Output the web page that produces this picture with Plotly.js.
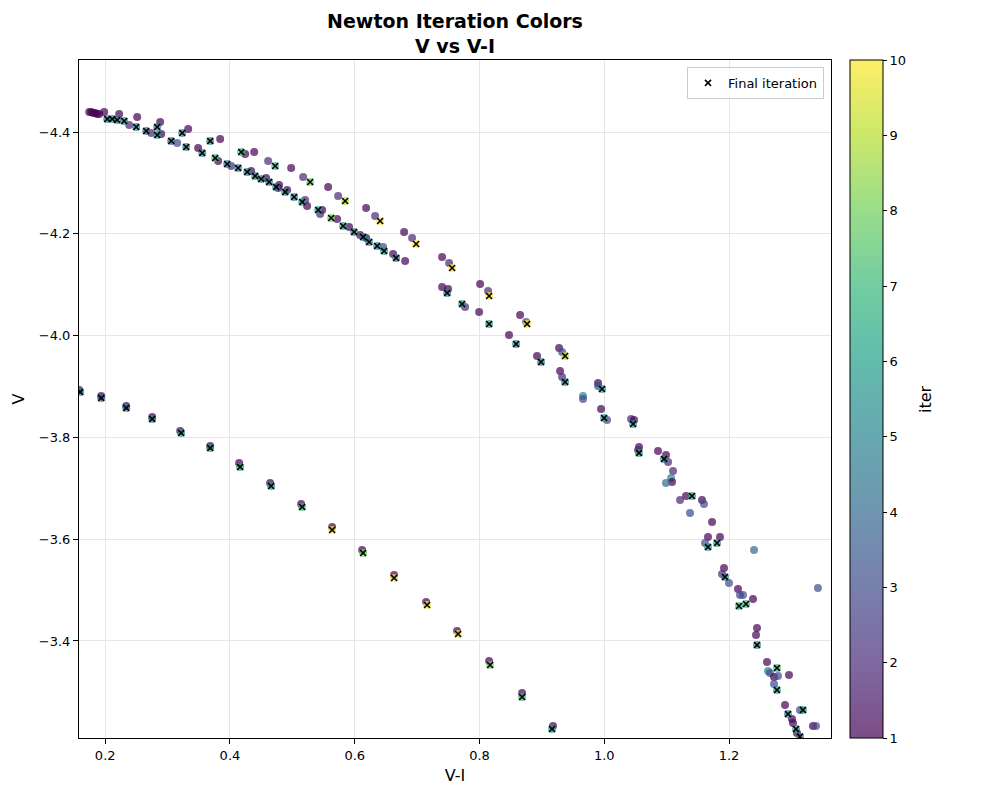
<!DOCTYPE html>
<html>
<head>
<meta charset="utf-8">
<script src="https://cdn.plot.ly/plotly-3.0.1.min.js"></script>
<style>
  html, body { margin: 0; padding: 0; background: #ffffff; }
  #chart { width: 1000px; height: 800px; }
</style>
</head>
<body>
<div id="chart"></div>
<script>
// Intermediate Newton iterations: colour index V-I, magnitude V, iteration number
const iterVI = [
  0.1744, 0.1776, 0.1808, 0.1840, 0.1872, 0.1904,
  0.1984, 0.2224, 0.2513, 0.2385, 0.2737, 0.2881, 0.2897, 0.3154, 0.3330, 0.3490,
  0.3843, 0.3811, 0.4019, 0.4244, 0.4388, 0.4340, 0.4580, 0.4612, 0.4788, 0.4981,
  0.5173, 0.5574, 0.5734, 0.6183, 0.6327, 0.6792, 0.6920, 0.7401, 0.7513,
  0.4772, 0.4917, 0.5205, 0.5237, 0.5478, 0.5446, 0.5718, 0.5910, 0.6087, 0.6183,
  0.6455, 0.6616, 0.6808, 0.7401, 0.7497, 0.7769, 0.8010, 0.8138, 0.7994, 0.8651,
  0.8747, 0.8474, 0.8923, 0.9276, 0.9324, 0.9292, 0.9324, 0.9901, 0.9901, 0.9660,
  0.9660, 0.9949, 1.0045, 1.0430, 1.0478, 1.0558, 1.0542, 1.0862, 1.0990, 1.1023,
  1.1103, 1.1071, 1.1087, 1.0990, 1.1311, 1.1215, 1.1567, 1.1599, 1.1375, 1.1728,
  1.1663, 1.1856, 1.1616, 1.2401, 1.1920, 1.1888, 1.2000, 1.2144, 1.2176, 1.2224,
  1.2385, 1.3426, 1.2449, 1.2433, 1.2609, 1.2625, 1.2657, 1.2721, 1.2785, 1.2962,
  1.2721, 1.2898, 1.3010, 1.3026, 1.3090, 1.3138, 1.3346, 1.3394,
  0.1583, 0.1936, 0.2337, 0.2753, 0.3202, 0.3683, 0.4147, 0.4644, 0.5141, 0.5638,
  0.6119, 0.6631, 0.7144, 0.7641, 0.8154, 0.8683, 0.9179
];
const iterV = [
  -4.4393, -4.4393, -4.4373, -4.4373, -4.4354, -4.4354,
  -4.4393, -4.4354, -4.4295, -4.4138, -4.3980, -4.4196, -4.3961, -4.3784, -4.4059, -4.3686,
  -4.3862, -4.3430, -4.3332, -4.3568, -4.3607, -4.3234, -4.3096, -4.3430, -4.2959, -4.3293,
  -4.3116, -4.2919, -4.2743, -4.2507, -4.2350, -4.2035, -4.1918, -4.1544, -4.1426,
  -4.2900, -4.2861, -4.2664, -4.2546, -4.2468, -4.2389, -4.2291, -4.2134, -4.1976, -4.1917,
  -4.1741, -4.1603, -4.1466, -4.0955, -4.0916, -4.0562, -4.1014, -4.0876, -4.0464, -4.0405,
  -4.0267, -4.0012, -3.9599, -3.9756, -3.9678, -3.9305, -3.9187, -3.9069, -3.9010, -3.8813,
  -3.8755, -3.8558, -3.8342, -3.8362, -3.8342, -3.7812, -3.7753, -3.7733, -3.7654, -3.7517,
  -3.7340, -3.7202, -3.7124, -3.7104, -3.6849, -3.6770, -3.6770, -3.6692, -3.6515, -3.6338,
  -3.6043, -3.6043, -3.5926, -3.5788, -3.5434, -3.5316, -3.5140, -3.5022, -3.4904, -3.4904,
  -3.4825, -3.5041, -3.4256, -3.4118, -3.3588, -3.3411, -3.3371, -3.3293, -3.3313, -3.3332,
  -3.3155, -3.2743, -3.2468, -3.2389, -3.2193, -3.2645, -3.2330, -3.2330,
  -3.8931, -3.8813, -3.8617, -3.8401, -3.8126, -3.7831, -3.7497, -3.7104, -3.6692, -3.6240,
  -3.5788, -3.5297, -3.4766, -3.4197, -3.3608, -3.2979, -3.2330
];
const iterN = [
  1, 1, 1, 1, 1, 1,
  1, 1, 1, 2, 2, 1, 1, 3, 1, 1,
  1, 1, 2, 1, 1, 1, 1, 2, 1, 1,
  2, 1, 2, 1, 2, 1, 2, 1, 2,
  1, 1, 2, 1, 1, 2, 1, 1, 1, 1,
  3, 1, 1, 1, 1, 2, 1, 2, 1, 1,
  3, 1, 1, 1, 3, 1, 2, 1, 3, 5,
  3, 1, 3, 2, 1, 1, 2, 1, 1, 2,
  2, 5, 1, 4, 1, 2, 1, 3, 3, 1,
  1, 1, 3, 4, 1, 2, 3, 1, 3, 3,
  1, 3, 1, 1, 1, 5, 3, 1, 3, 1,
  3, 1, 1, 1, 1, 3, 1, 3,
  1, 1, 1, 1, 1, 1, 1, 1, 1, 1,
  1, 1, 1, 1, 1, 1, 1
];

// Final (converged) iterations
const finalVI = [
  0.2032, 0.2112, 0.2192, 0.2304, 0.2497, 0.2657, 0.2833, 0.2833, 0.3058, 0.3234,
  0.3298, 0.3555, 0.3683, 0.3763, 0.3955, 0.4180, 0.4131, 0.4276, 0.4404, 0.4500,
  0.4628, 0.4724, 0.4740, 0.4885, 0.5029, 0.5157, 0.5285, 0.5414, 0.5622, 0.5814,
  0.5846, 0.5990, 0.6135, 0.6231, 0.6359, 0.6407, 0.6471, 0.6664, 0.6984, 0.7561,
  0.7481, 0.7721, 0.8154, 0.8154, 0.8763, 0.8587, 0.8987, 0.9372, 0.9372, 0.9965,
  0.9997, 1.0462, 1.0558, 1.0958, 1.1407, 1.1663, 1.1808, 1.1936, 1.2160, 1.2272,
  1.2449, 1.2769, 1.2769, 1.2946, 1.3074, 1.3186, 1.3138,
  0.1599, 0.1936, 0.2337, 0.2753, 0.3218, 0.3683, 0.4163, 0.4660, 0.5157, 0.5638,
  0.6135, 0.6631, 0.7160, 0.7657, 0.8170, 0.8683, 0.9163
];
const finalV = [
  -4.4255, -4.4255, -4.4236, -4.4216, -4.4098, -4.4020, -4.4098, -4.3941, -4.3823, -4.3980,
  -4.3705, -4.3587, -4.3823, -4.3489, -4.3371, -4.3607, -4.3293, -4.3214, -4.3136, -4.3077,
  -4.3018, -4.3332, -4.2919, -4.2821, -4.2723, -4.2625, -4.3018, -4.2468, -4.2310, -4.2153,
  -4.2644, -4.2035, -4.1937, -4.1839, -4.1760, -4.2251, -4.1662, -4.1525, -4.1800, -4.1328,
  -4.0837, -4.0621, -4.0778, -4.0228, -4.0228, -3.9835, -3.9481, -3.9599, -3.9089, -3.8951,
  -3.8381, -3.8263, -3.7694, -3.7576, -3.6849, -3.5847, -3.5926, -3.5257, -3.4688, -3.4727,
  -3.3922, -3.3470, -3.3037, -3.2566, -3.2271, -3.2645, -3.2120,
  -3.8892, -3.8774, -3.8578, -3.8362, -3.8087, -3.7792, -3.7419, -3.7045, -3.6633, -3.6181,
  -3.5729, -3.5238, -3.4707, -3.4138, -3.3529, -3.2900, -3.2271
];
const finalN = [
  5, 5, 5, 5, 5, 4, 5, 6, 4, 5,
  5, 5, 5, 7, 5, 7, 5, 5, 5, 5,
  5, 7, 5, 5, 5, 6, 8, 6, 8, 6,
  9, 5, 5, 5, 5, 10, 6, 5, 10, 10,
  5, 6, 10, 6, 10, 5, 5, 9, 5, 6,
  6, 6, 6, 5, 6, 6, 6, 5, 7, 7,
  5, 7, 6, 5, 6, 6, 5,
  5, 4, 5, 5, 6, 6, 6, 6, 7, 10,
  8, 10, 10, 10, 8, 7, 6
];

const iterTicks = [1, 2, 3, 4, 5, 6, 7, 8, 9, 10];
const xTicks = [0.2, 0.4, 0.6, 0.8, 1.0, 1.2];
const yTicks = [-4.4, -4.2, -4.0, -3.8, -3.6, -3.4];

// viridis with 0.7 alpha, shared by markers and colour bar
const viridis = [
  [0.000, 'rgba(68,1,84,0.7)'],
  [0.111, 'rgba(72,40,120,0.7)'],
  [0.222, 'rgba(62,73,137,0.7)'],
  [0.333, 'rgba(49,104,142,0.7)'],
  [0.444, 'rgba(38,130,142,0.7)'],
  [0.556, 'rgba(31,158,137,0.7)'],
  [0.667, 'rgba(53,183,121,0.7)'],
  [0.778, 'rgba(110,206,88,0.7)'],
  [0.889, 'rgba(181,222,43,0.7)'],
  [1.000, 'rgba(253,231,37,0.7)']
];

const FONT = 'DejaVu Sans, sans-serif';

const allVI = iterVI.concat(finalVI);
const allV = iterV.concat(finalV);
const allN = iterN.concat(finalN);

const points = {
  type: 'scatter',
  mode: 'markers',
  x: allVI,
  y: allV,
  showlegend: false,
  hoverinfo: 'x+y',
  marker: {
    size: 8,
    color: allN,
    cmin: 1,
    cmax: 10,
    colorscale: viridis,
    line: { width: 0 },
    colorbar: {
      thickness: 33,
      len: 1,
      lenmode: 'fraction',
      x: 1.0253,
      xanchor: 'left',
      xpad: 0,
      y: 1,
      yanchor: 'top',
      ypad: 0,
      outlinecolor: '#000000',
      outlinewidth: 1,
      tickmode: 'array',
      tickvals: iterTicks,
      ticks: 'outside',
      ticklen: 4,
      tickcolor: '#000000',
      tickfont: { family: FONT, size: 13, color: '#000000' }
    }
  }
};

const finals = {
  type: 'scatter',
  mode: 'markers',
  name: 'Final iteration',
  x: finalVI,
  y: finalV,
  marker: {
    symbol: 'x-thin',
    size: 6,
    color: '#000000',
    line: { color: '#000000', width: 1.6 }
  }
};

const axisCommon = {
  showline: true,
  linecolor: '#000000',
  linewidth: 1,
  mirror: true,
  ticks: 'outside',
  ticklen: 5,
  tickcolor: '#000000',
  showgrid: true,
  gridcolor: '#e6e6e6',
  gridwidth: 1,
  zeroline: false,
  tickfont: { family: FONT, size: 13, color: '#000000' }
};

const layout = {
  width: 1000,
  height: 800,
  paper_bgcolor: '#ffffff',
  plot_bgcolor: '#ffffff',
  margin: { l: 79, r: 169, t: 60, b: 62 },
  font: { family: FONT, color: '#000000' },
  title: {
    text: '<b>Newton Iteration Colors<br>V vs V-I</b>',
    font: { family: FONT, size: 19, color: '#000000' },
    xref: 'paper',
    x: 0.5,
    xanchor: 'center',
    yref: 'container',
    y: 0.965,
    yanchor: 'top'
  },
  xaxis: Object.assign({}, axisCommon, {
    range: [0.158, 1.3635],
    tickmode: 'array',
    tickvals: xTicks,
    tickformat: '.1f',
    title: { text: 'V-I', font: { family: FONT, size: 16, color: '#000000' }, standoff: 8 }
  }),
  yaxis: Object.assign({}, axisCommon, {
    range: [-3.2094, -4.5415],
    tickmode: 'array',
    tickvals: yTicks,
    tickformat: '.1f',
    title: { text: 'V', font: { family: FONT, size: 16, color: '#000000' }, standoff: 10 }
  }),
  legend: {
    x: 0.9907,
    xanchor: 'right',
    y: 0.9897,
    yanchor: 'top',
    bgcolor: 'rgba(255,255,255,0.8)',
    bordercolor: '#cccccc',
    borderwidth: 1,
    font: { family: FONT, size: 13, color: '#000000' }
  },
  annotations: [{
    text: 'iter',
    xref: 'paper',
    yref: 'paper',
    x: 1.125,
    y: 0.5,
    xanchor: 'center',
    yanchor: 'middle',
    textangle: -90,
    showarrow: false,
    font: { family: FONT, size: 16, color: '#000000' }
  }]
};

Plotly.newPlot('chart', [points, finals], layout, { displayModeBar: false, staticPlot: true });
</script>
</body>
</html>
